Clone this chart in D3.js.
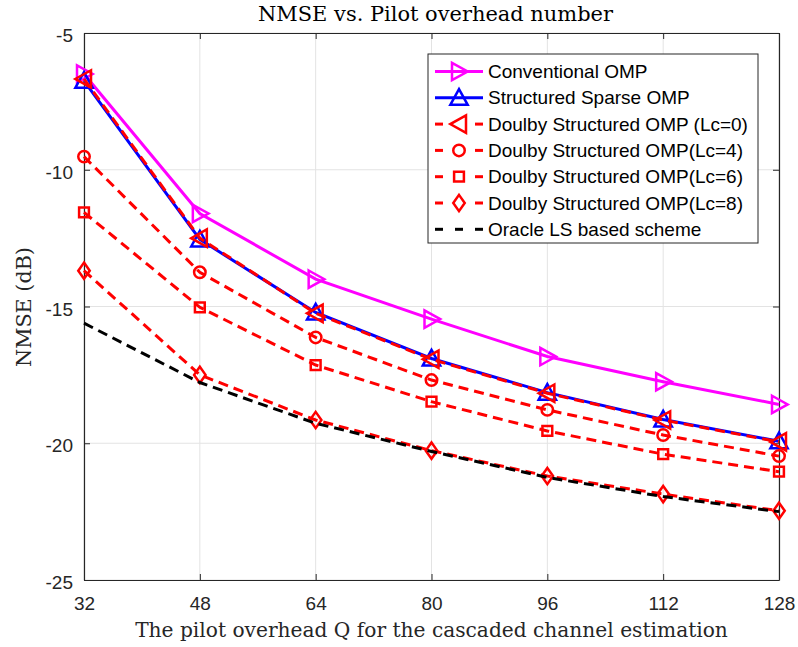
<!DOCTYPE html>
<html><head><meta charset="utf-8">
<script src="https://cdn.jsdelivr.net/npm/d3@7"></script>
<style>body{margin:0;background:#fff}svg{display:block}</style>
</head><body><svg id="c" width="798" height="647"></svg>
<script>
const pilots = [32, 48, 64, 80, 96, 112, 128];
const xTicks = [32, 48, 64, 80, 96, 112, 128];
const yTicks = [-5, -10, -15, -20, -25];
const conventionalOMP = [-6.5, -11.6, -14.0, -15.46, -16.83, -17.75, -18.58];
const structuredSparseOMP = [-6.75, -12.55, -15.22, -16.9, -18.15, -19.13, -19.93];
const doublyLc0 = [-6.68, -12.5, -15.25, -16.93, -18.17, -19.15, -19.95];
const doublyLc4 = [-9.52, -13.75, -16.13, -17.69, -18.78, -19.7, -20.47];
const doublyLc6 = [-11.56, -15.03, -17.14, -18.48, -19.55, -20.4, -21.04];
const doublyLc8 = [-13.69, -17.5, -19.15, -20.27, -21.2, -21.86, -22.47];
const oracleLS = [-15.61, -17.78, -19.27, -20.3, -21.25, -21.95, -22.5];
const seriesNames = ["Conventional OMP", "Structured Sparse OMP", "Doulby Structured OMP (Lc=0)",
  "Doulby Structured OMP(Lc=4)", "Doulby Structured OMP(Lc=6)", "Doulby Structured OMP(Lc=8)", "Oracle LS based scheme"];

const series = [
  {name: seriesNames[0], values: conventionalOMP, color: "#ff00ff", dash: null, marker: "triR"},
  {name: seriesNames[1], values: structuredSparseOMP, color: "#0000ff", dash: null, marker: "triU"},
  {name: seriesNames[2], values: doublyLc0, color: "#ff0000", dash: "10,6", marker: "triL"},
  {name: seriesNames[3], values: doublyLc4, color: "#ff0000", dash: "10,6", marker: "circle"},
  {name: seriesNames[4], values: doublyLc6, color: "#ff0000", dash: "10,6", marker: "square"},
  {name: seriesNames[5], values: doublyLc8, color: "#ff0000", dash: "10,6", marker: "diamond"},
  {name: seriesNames[6], values: oracleLS, color: "#000000", dash: "10,6", marker: null}
];

const svg = d3.select("#c");
const L = 84, T = 33, W = 695, H = 547;
const x = d3.scaleLinear().domain([32, 128]).range([L, L + W]);
const y = d3.scaleLinear().domain([-25, -5]).range([T + H, T]);
const sans = "'Liberation Sans', Arial, Helvetica, sans-serif";
const serif = "'DejaVu Serif', 'Liberation Serif', serif";

// grid
const g = svg.append("g");
g.selectAll(".gx").data(xTicks).enter().append("line")
  .attr("x1", d => x(d)).attr("x2", d => x(d)).attr("y1", T).attr("y2", T + H)
  .attr("stroke", "#e3e3e3").attr("stroke-width", 1);
g.selectAll(".gy").data(yTicks).enter().append("line")
  .attr("y1", d => y(d)).attr("y2", d => y(d)).attr("x1", L).attr("x2", L + W)
  .attr("stroke", "#e3e3e3").attr("stroke-width", 1);

// axes
const axisColor = "#262626";
const fmt = d => String(d);
const xAxisB = d3.axisBottom(x).tickValues(xTicks).tickFormat(fmt).tickSizeInner(-6).tickSizeOuter(0).tickPadding(17);
const xAxisT = d3.axisTop(x).tickValues(xTicks).tickSizeInner(-6).tickSizeOuter(0).tickFormat("");
const yAxisL = d3.axisLeft(y).tickValues(yTicks).tickFormat(fmt).tickSizeInner(-6).tickSizeOuter(0).tickPadding(11);
const yAxisR = d3.axisRight(y).tickValues(yTicks).tickSizeInner(-6).tickSizeOuter(0).tickFormat("");
function styleAxis(sel){
  sel.attr("font-family", sans).attr("font-size", 19);
  sel.select(".domain").attr("stroke", axisColor).attr("stroke-width", 1.2);
  sel.selectAll(".tick line").attr("stroke", axisColor).attr("stroke-width", 1);
  sel.selectAll(".tick text").attr("fill", "#262626");
}
svg.append("g").attr("transform", `translate(0,${T + H})`).call(xAxisB).call(styleAxis);
svg.append("g").attr("transform", `translate(0,${T})`).call(xAxisT).call(styleAxis);
svg.append("g").attr("transform", `translate(${L},0)`).call(yAxisL).call(styleAxis)
  .selectAll(".tick text").attr("dy", "0.45em");
svg.append("g").attr("transform", `translate(${L + W},0)`).call(yAxisR).call(styleAxis);

// marker path generator
function markerPath(type, s){
  switch(type){
    case "triR": return `M${-s*0.5},${-s*0.62}L${s*0.62},0L${-s*0.5},${s*0.62}Z`;
    case "triL": return `M${s*0.5},${-s*0.62}L${-s*0.62},0L${s*0.5},${s*0.62}Z`;
    case "triU": return `M${-s*0.62},${s*0.5}L0,${-s*0.62}L${s*0.62},${s*0.5}Z`;
    case "circle": {const r=s*0.41;return `M${r},0A${r},${r} 0 1,1 ${-r},0A${r},${r} 0 1,1 ${r},0Z`;}
    case "square": {const h=s*0.35;return `M${-h},${-h}L${h},${-h}L${h},${h}L${-h},${h}Z`;}
    case "diamond": {const h=s*0.58, w=s*0.41;return `M0,${-h}L${w},0L0,${h}L${-w},0Z`;}
  }
  return "";
}

const line = d3.line().x((d, i) => x(pilots[i])).y(d => y(d));
const MS = 14;
series.forEach(s => {
  const gs = svg.append("g");
  gs.append("path").datum(s.values).attr("d", line).attr("fill", "none")
    .attr("stroke", s.color).attr("stroke-width", 3).attr("stroke-dasharray", s.dash);
  if (s.marker) {
    gs.selectAll("path.m").data(s.values).enter().append("path").attr("class", "m")
      .attr("transform", (d, i) => `translate(${x(pilots[i])},${y(d)})`)
      .attr("d", markerPath(s.marker, MS)).attr("fill", "none")
      .attr("stroke", s.color).attr("stroke-width", 2.5);
  }
});

// legend
const lg = svg.append("g");
const LX = 428, LY = 54, LW = 330, LH = 189;
lg.append("rect").attr("x", LX).attr("y", LY).attr("width", LW).attr("height", LH)
  .attr("fill", "#fff").attr("stroke", "#262626").attr("stroke-width", 1);
series.forEach((s, i) => {
  const cy = 71.5 + i * 26.3;
  const row = lg.append("g");
  const seg = (a, b) => row.append("line").attr("x1", a).attr("x2", b).attr("y1", cy).attr("y2", cy)
    .attr("stroke", s.color).attr("stroke-width", 3);
  if (s.dash) {
    seg(435, 443); seg(475, 483);
    if (!s.marker) seg(455, 463);
  } else {
    seg(435, 483);
  }
  if (s.marker) {
    row.append("path").attr("transform", `translate(459,${cy})`).attr("d", markerPath(s.marker, MS))
      .attr("fill", "none").attr("stroke", s.color).attr("stroke-width", 2.5);
  }
  row.append("text").attr("x", 488).attr("y", cy + 6.5).text(s.name)
    .attr("font-family", sans).attr("font-size", 19).attr("fill", "#000");
});

// title and labels, fitted to the reference widths
function fit(sel, target){
  const w = sel.node().getComputedTextLength();
  const fs = parseFloat(sel.attr("font-size"));
  sel.attr("font-size", fs * target / w);
}
const title = svg.append("text").attr("x", 435.5).attr("y", 21).attr("text-anchor", "middle")
  .attr("font-family", serif).attr("font-size", 18).attr("fill", "#000")
  .text("NMSE vs. Pilot overhead number");
fit(title, 355);
const xl = svg.append("text").attr("x", 431.5).attr("y", 637).attr("text-anchor", "middle")
  .attr("font-family", serif).attr("font-size", 18).attr("fill", "#262626")
  .text("The pilot overhead Q for the cascaded channel estimation");
fit(xl, 593);
const yl = svg.append("text").attr("transform", "translate(31,307) rotate(-90)").attr("text-anchor", "middle")
  .attr("font-family", serif).attr("font-size", 18).attr("fill", "#262626")
  .text("NMSE (dB)");
fit(yl, 120);
</script></body></html>
